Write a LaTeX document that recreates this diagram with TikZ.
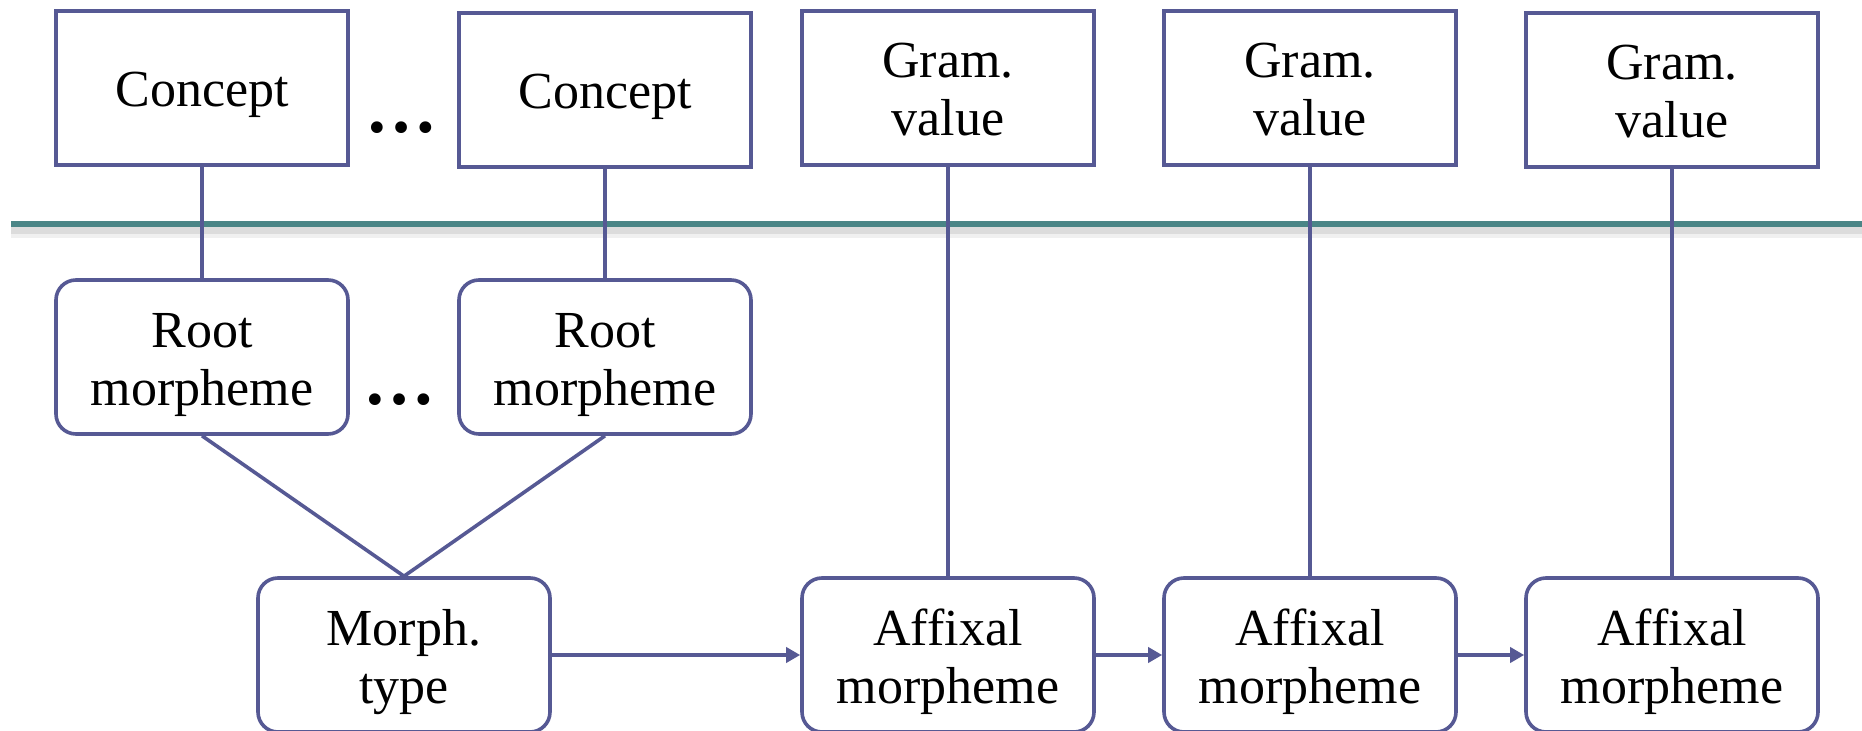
\documentclass[tikz,border=0pt]{standalone}
\usepackage{fontspec}
\setmainfont{Liberation Serif}
\usetikzlibrary{arrows.meta}

\definecolor{edge}{RGB}{86,89,148}
\definecolor{rulecol}{RGB}{74,133,134}

% box label lowered by #1 while keeping its natural size
\newcommand{\boxlabel}[2]{\raisebox{-#1}[\height][\depth]{\begin{tabular}{@{}c@{}}#2\end{tabular}}}

\begin{document}
\begin{tikzpicture}[x=0.5pt,y=-0.5pt,
  font=\fontsize{26}{29}\selectfont,
  conceptbox/.style={draw=edge, line width=1.8pt, fill=white,
    minimum width=146pt, minimum height=77pt, align=center, inner sep=0pt},
  morphbox/.style={conceptbox, rounded corners=10pt},
  link/.style={draw=edge, line width=1.8pt},
  flow/.style={link, -{Triangle[length=7pt,width=7.5pt]}},
  dots/.style={font=\fontsize{36}{36}\selectfont\bfseries, inner sep=0pt}]

\useasboundingbox (0,0) rectangle (1862,731);

% level separator with its soft shadow
\coordinate (sepL) at (11,224);
\coordinate (sepR) at (1862,224);
\draw[gray, opacity=0.18, line width=4pt] ([yshift=-3pt]sepL) -- ([yshift=-3pt]sepR);
\draw[gray, opacity=0.12, line width=6pt] ([yshift=-4pt]sepL) -- ([yshift=-4pt]sepR);
\draw[rulecol, line width=3.3pt] (sepL) -- (sepR);

% conceptual level
\node[conceptbox] (c1) at (202,88) {\boxlabel{3.5pt}{Concept}};
\node[conceptbox] (c2) at (605,90) {\boxlabel{3.5pt}{Concept}};
\node[conceptbox] (g1) at (948,88) {\boxlabel{3.5pt}{Gram.\\value}};
\node[conceptbox] (g2) at (1310,88) {\boxlabel{3.5pt}{Gram.\\value}};
\node[conceptbox] (g3) at (1672,90) {\boxlabel{3.5pt}{Gram.\\value}};
\node[dots] (d1) at (401,128) {…};

% morphological level
\node[morphbox] (r1) at (202,357) {\boxlabel{4pt}{Root\\morpheme}};
\node[morphbox] (r2) at (605,357) {\boxlabel{4pt}{Root\\morpheme}};
\node[dots] (d2) at (399,400) {…};

\node[morphbox] (m)  at (404,655) {\boxlabel{4pt}{Morph.\\type}};
\node[morphbox] (a1) at (948,655) {\boxlabel{4pt}{Affixal\\morpheme}};
\node[morphbox] (a2) at (1310,655) {\boxlabel{4pt}{Affixal\\morpheme}};
\node[morphbox] (a3) at (1672,655) {\boxlabel{4pt}{Affixal\\morpheme}};

% connectors
\draw[link] (c1) -- (r1);
\draw[link] (c2) -- (r2);
\draw[link] (g1) -- (a1);
\draw[link] (g2) -- (a2);
\draw[link] (g3) -- (a3);
\draw[link] (r1.south) -- (m.north);
\draw[link] (r2.south) -- (m.north);
\draw[flow] (m) -- (a1);
\draw[flow] (a1) -- (a2);
\draw[flow] (a2) -- (a3);
\end{tikzpicture}
\end{document}
